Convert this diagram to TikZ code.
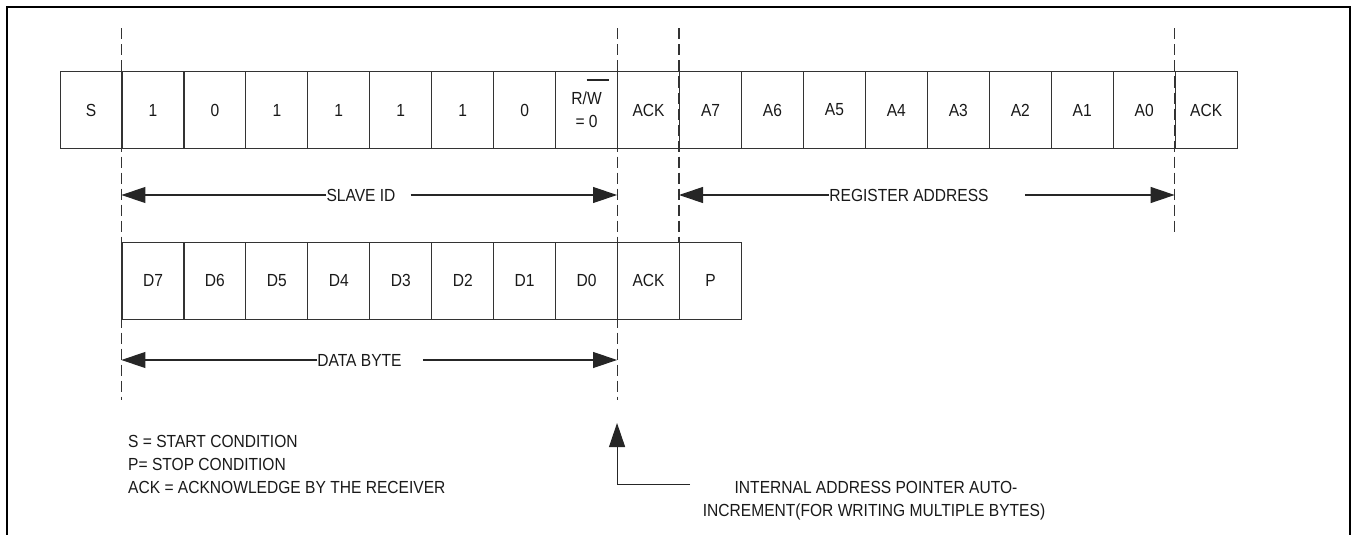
\documentclass[tikz,border=0pt]{standalone}
\usepackage{fontspec}
\setmainfont[FakeStretch=0.89]{Liberation Sans}
\usetikzlibrary{arrows.meta}
\begin{document}
\begin{tikzpicture}[x=1pt,y=-1pt,
  every node/.style={font=\fontsize{17.5}{23}\selectfont, text=black!90},
  cell/.style={draw=black!80, line width=1.1pt, minimum width=61.95pt, minimum height=77pt, inner sep=0pt, anchor=north west, align=center},
  guide/.style={draw=black!80, line width=1.1pt, dash pattern=on 11pt off 5pt},
  span/.style={draw=black!85, line width=1.1pt, -{Triangle[length=24pt,width=16pt]}},
  lbl/.style={inner sep=0pt},
  frame/.style={draw=black, line width=2pt}]
\useasboundingbox (0,0) rectangle (1352,535);
\draw[frame] (7,535) -- (7,7.5) -- (1349.5,7.5) -- (1349.5,535);
% top row
\foreach \t [count=\i from 0] in {S,1,0,1,1,1,1,0}
  \node[cell] (t\i) at (59.5+61.95*\i,71) {\t};
\node[cell] (t8) at (59.5+61.95*8,71) {R/W\\= 0};
\foreach \t [count=\i from 9] in {ACK,A7,A6,A5,A4,A3,A2,A1,A0,ACK}
  \node[cell] (t\i) at (59.5+61.95*\i,71) {\t};
\draw[draw=black!85, line width=1.1pt] ([yshift=-9pt]t8.north) -- ++(22,0);
% second row
\foreach \t [count=\i from 0] in {D7,D6,D5,D4,D3,D2,D1,D0,ACK,P}
  \node[cell] (d\i) at (121.45+61.95*\i,241.5) {\t};
% guides
\coordinate (gaT) at (121.45,28.5);  \coordinate (gaB) at (121.45,400);
\coordinate (gbT) at (617.05,28.5);  \coordinate (gbB) at (617.05,400);
\coordinate (gcT) at (679,28.5);     \coordinate (gcB) at (679,241.5);
\coordinate (gdT) at (1174.6,28.5);  \coordinate (gdB) at (1174.6,233);
\draw[guide] (gaT) -- (gaB);
\draw[guide] (gbT) -- (gbB);
\draw[guide] (gcT) -- (gcB);
\draw[guide] (gdT) -- (gdB);
% span arrows
\node[lbl] (slave) at (361,195) {SLAVE ID};
\coordinate (sL) at (121.45,195); \coordinate (sR) at (617.05,195);
\draw[span] (slave.west) -- (sL);
\draw[span] ([xshift=15pt]slave.east) -- (sR);
\node[lbl] (reg) at (909,195) {REGISTER ADDRESS};
\coordinate (rL) at (679,195); \coordinate (rR) at (1174.6,195);
\draw[span] (reg.west) -- (rL);
\draw[span] ([xshift=36pt]reg.east) -- (rR);
\node[lbl] (data) at (359.5,360) {DATA BYTE};
\coordinate (dL) at (121.45,360); \coordinate (dR) at (617.05,360);
\draw[span] (data.west) -- (dL);
\draw[span] ([xshift=21pt]data.east) -- (dR);
% pointer
\coordinate (ptrtip) at (617.05,423);
\coordinate (hook) at (690,484.3);
\draw[span] (hook) -| (ptrtip);
\node[lbl, anchor=base] (note1) at (876,493.3) {INTERNAL ADDRESS POINTER AUTO-};
\node[lbl, anchor=base] (note2) at (874,516) {INCREMENT(FOR WRITING MULTIPLE BYTES)};
% legend
\node[lbl, anchor=base west] (leg1) at (128,447.7) {S = START CONDITION};
\node[lbl, anchor=base west] (leg2) at (128,470.7) {P= STOP CONDITION};
\node[lbl, anchor=base west] (leg3) at (128,493.7) {ACK = ACKNOWLEDGE BY THE RECEIVER};
\end{tikzpicture}
\end{document}
